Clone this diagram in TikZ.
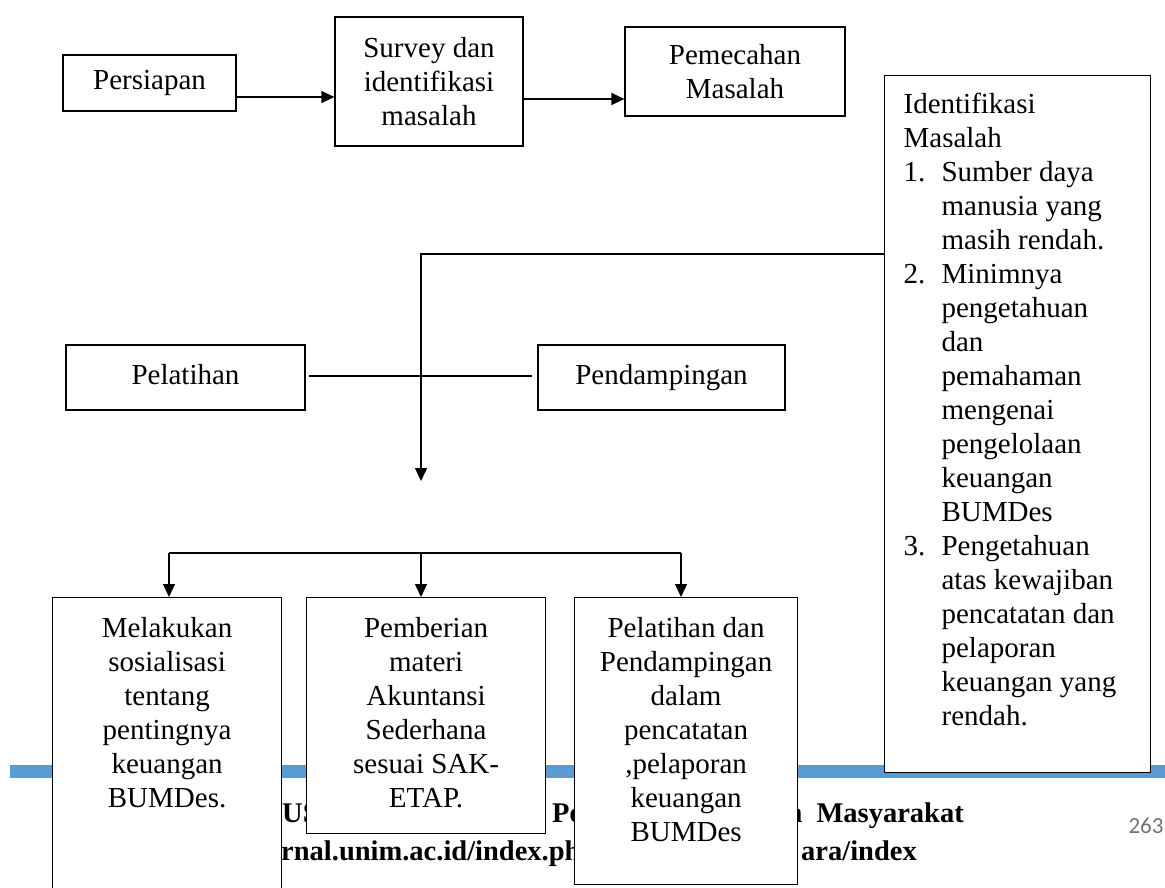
\documentclass[tikz,border=0pt]{standalone}
\usepackage{fontspec}
\setmainfont{Liberation Serif}
\newfontfamily\numfont{Carlito}
\usetikzlibrary{arrows.meta}
\definecolor{barblue}{HTML}{5B9BD5}
\tikzset{
  box/.style={draw=black, line width=1.2pt, fill=white, inner sep=0pt, align=center},
  oneline/.style={text height=20pt, text depth=6pt},
  arr/.style={line width=1.3pt, -{Triangle[length=13pt,width=12pt]}},
  ln/.style={line width=1.3pt},
  foot/.style={font=\bfseries\fontsize{28.5}{34}\selectfont, inner sep=0pt},
}
\begin{document}
\begin{tikzpicture}[x=1pt, y=-1pt, font=\fontsize{29}{34}\selectfont]
\useasboundingbox (0,0) rectangle (1165,888);
\clip (0,0) rectangle (1165,888);
\fill[white] (0,0) rectangle (1165,888);

% footer band and text (partly hidden by the boxes)
\fill[barblue] (10,765) rectangle (1165,778);
\node[foot, anchor=base west] (f1) at (282,822) {US};
\node[foot, anchor=base west] (f2) at (552,822) {Pe};
\node[foot, anchor=base east] (f3) at (964,822) {n\hspace{14pt}Masyarakat};
\node[foot, anchor=base west] (f4) at (281,860) {rnal.unim.ac.id/index.ph};
\node[foot, anchor=base east] (f5) at (917,860) {ara/index};
\node[inner sep=0pt, font=\numfont\fontsize{23}{26}\selectfont, text=black!55] (pg) at (1146,826) {263};

% top row
\node[box, oneline, minimum width=173pt, minimum height=56pt] (pers) at (149.5,83) {Persiapan};
\node[box, minimum width=188pt, minimum height=129pt] (survey) at (429,81.5) {Survey dan\\identifikasi\\masalah};
\node[box, minimum width=220pt, minimum height=89pt] (pemec) at (735,71.5) {Pemecahan\\Masalah};

\draw[arr] ([yshift=-14pt]pers.east) -- ([yshift=-14pt]pers.east -| survey.west);
\draw[arr] ([yshift=-17.5pt]survey.east) -- ([yshift=-17.5pt]survey.east -| pemec.west);

% identification box
\node[box, anchor=north west] (ident) at (884,75) {\parbox[c][697pt][t]{266pt}{\raggedright\leftskip=19pt\vspace*{14pt}\strut Identifikasi\\
Masalah\\
\makebox[38pt][l]{1.}Sumber daya\\
\hspace*{38pt}manusia yang\\
\hspace*{38pt}masih rendah.\\
\makebox[38pt][l]{2.}Minimnya\\
\hspace*{38pt}pengetahuan\\
\hspace*{38pt}dan\\
\hspace*{38pt}pemahaman\\
\hspace*{38pt}mengenai\\
\hspace*{38pt}pengelolaan\\
\hspace*{38pt}keuangan\\
\hspace*{38pt}BUMDes\\
\makebox[38pt][l]{3.}Pengetahuan\\
\hspace*{38pt}atas kewajiban\\
\hspace*{38pt}pencatatan dan\\
\hspace*{38pt}pelaporan\\
\hspace*{38pt}keuangan yang\\
\hspace*{38pt}rendah.}};

% middle row
\node[box, oneline, minimum width=239pt, minimum height=65pt] (pel) at (185.5,377.5) {Pelatihan};
\node[box, oneline, minimum width=247pt, minimum height=65pt] (pend) at (661.5,377.5) {Pendampingan};
\draw[ln] ([xshift=3pt,yshift=1.5pt]pel.east) -- ([xshift=-5pt,yshift=1.5pt]pend.west);

\coordinate (jt) at (421,254);
\coordinate (jb) at (421,481);
\draw[arr] (ident.west |- jt) -- (jt) -- (jb);

% bottom row
\node[box, anchor=north west] (b1) at (52,597) {\parbox[c][300pt][t]{229pt}{\centering\vspace*{16pt}\strut Melakukan\\sosialisasi\\tentang\\pentingnya\\keuangan\\BUMDes.}};
\node[box, anchor=north west] (b2) at (306,597) {\parbox[c][236pt][t]{239pt}{\centering\vspace*{16pt}\strut Pemberian\\materi\\Akuntansi\\Sederhana\\sesuai SAK-\\ETAP.}};
\node[box, anchor=north west] (b3) at (574,597) {\parbox[c][287pt][t]{223pt}{\centering\vspace*{16pt}\strut Pelatihan dan\\Pendampingan\\dalam\\pencatatan\\,pelaporan\\keuangan\\BUMDes}};

\coordinate (c1) at (169,553);
\coordinate (c2) at (421,553);
\coordinate (c3) at (681,553);
\draw[ln] (c1) -- (c3);
\draw[arr] (c1) -- (c1 |- b1.north);
\draw[arr] (c2) -- (c2 |- b2.north);
\draw[arr] (c3) -- (c3 |- b3.north);
\end{tikzpicture}
\end{document}
